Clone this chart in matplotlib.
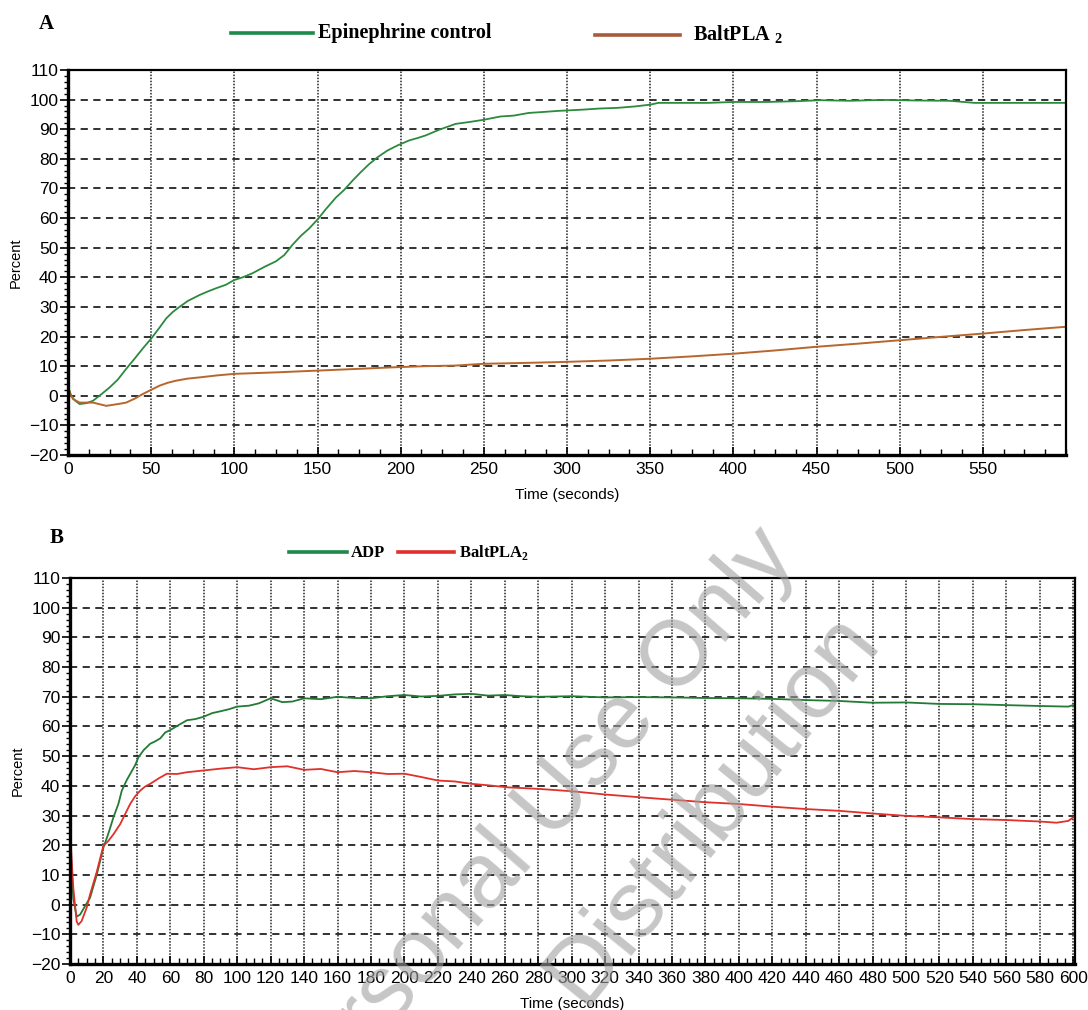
import matplotlib
matplotlib.use("Agg")
import matplotlib.pyplot as plt
from matplotlib.ticker import MultipleLocator

plt.rcParams['font.family'] = ['Liberation Sans', 'DejaVu Sans']
plt.rcParams['mathtext.fontset'] = 'custom'
plt.rcParams['mathtext.bf'] = 'Liberation Serif:bold'
plt.rcParams['mathtext.rm'] = 'Liberation Serif'

# panel A: epinephrine control vs BaltPLA2
epi_t = [0, 2, 4, 7, 11, 15, 20, 25, 30, 35, 40, 45, 50, 55, 59, 63, 67, 72, 79, 84,
         89, 95, 100, 105, 111, 118, 125, 130, 135, 140, 145, 150, 155, 161, 166, 171, 176, 181, 186, 192,
         198, 205, 210, 215, 223, 233, 242, 250, 260, 268, 277, 285, 295, 309, 320, 330, 341, 350, 355, 370,
         385, 400, 420, 440, 452, 470, 490, 510, 530, 545, 560, 580, 600]
epi_v = [3, 0, -1.5, -2.8, -2.5, -1.7, 0.5, 2.8, 5.5, 9.1, 12.5, 16, 19.3, 23, 26.1, 28.3, 30, 32, 34, 35.2,
         36.3, 37.5, 39.1, 40, 41.4, 43.5, 45.4, 47.5, 51, 54, 56.5, 59.5, 63, 66.9, 69.5, 72.6, 75.5, 78.2, 80.5, 82.8,
         84.5, 86.2, 87, 87.9, 89.8, 91.8, 92.5, 93.2, 94.3, 94.6, 95.5, 95.8, 96.2, 96.6, 97, 97.2, 97.7, 98.3, 98.9, 98.9,
         98.9, 99.2, 99.2, 99.5, 99.8, 99.6, 99.9, 99.7, 99.6, 98.9, 98.9, 98.9, 98.9]

balt_a_t = [0, 1, 3, 7, 15, 23, 30, 35, 40, 45, 50, 55, 60, 65, 72, 79, 90, 100, 125, 150,
            175, 195, 215, 233, 250, 275, 297, 325, 350, 375, 400, 425, 449, 475, 501, 525, 550, 575, 600]
balt_a_v = [3, 1, -1.1, -2.3, -2.3, -3.4, -2.8, -2.3, -1, 0.6, 2, 3.4, 4.4, 5.1, 5.8, 6.2, 6.9, 7.4, 7.9, 8.5,
            9.1, 9.6, 10, 10.2, 10.8, 11.1, 11.4, 11.9, 12.5, 13.3, 14.2, 15.3, 16.5, 17.6, 18.8, 19.9, 21, 22.2, 23.3]

# panel B: ADP vs BaltPLA2
adp_t = [0, 1, 2, 4, 6, 9, 12, 16, 20, 23, 26, 29, 31, 34, 36, 39, 41, 44, 48, 51,
         54, 57, 60, 65, 70, 75, 80, 85, 89, 95, 100, 107, 113, 120, 127, 133, 140, 150, 160, 170,
         180, 190, 200, 210, 220, 230, 240, 250, 260, 270, 280, 300, 320, 340, 360, 380, 400, 420, 440, 460,
         480, 500, 520, 540, 560, 580, 597, 600]
adp_v = [27, 12, 2, -4, -3.4, -0.5, 2.3, 10, 19.2, 24, 29.4, 34, 38.4, 42, 44, 47, 49.7, 52, 54.2, 55,
         56, 58, 58.8, 60.5, 62.1, 62.5, 63.3, 64.5, 65, 65.8, 66.7, 67, 67.8, 69.5, 68.2, 68.4, 69.5, 69.2, 70, 69.6,
         69.5, 70.2, 70.6, 70.1, 70.3, 70.8, 71, 70.4, 70.6, 70.2, 70, 70.2, 69.8, 69.9, 69.8, 69.6, 69.5, 69.3, 68.9, 68.6,
         68, 68.1, 67.6, 67.5, 67.2, 66.9, 66.7, 67.2]

balt_b_t = [0, 1, 2, 4, 5, 7, 10, 12, 16, 20, 23, 26, 30, 33, 36, 39, 42, 45, 48, 53,
            58, 64, 70, 80, 90, 100, 110, 120, 130, 140, 150, 160, 170, 180, 190, 200, 210, 220, 230, 240,
            250, 262, 280, 300, 320, 340, 361, 380, 400, 420, 440, 460, 480, 500, 520, 540, 560, 580, 590, 597, 600]
balt_b_v = [27, 15, 5.6, -5.6, -6.8, -5.5, -1, 3.4, 11, 19.8, 21.5, 23.7, 27.1, 30.5, 33.9, 36.5, 38.4, 39.8, 40.7, 42.5,
            44.1, 44, 44.6, 45.2, 45.8, 46.3, 45.6, 46.3, 46.6, 45.4, 45.7, 44.6, 45, 44.6, 44, 44.1, 43, 41.8, 41.5, 40.7,
            40.2, 39.5, 39, 38.2, 37.1, 36.2, 35.3, 34.5, 33.9, 33, 32.2, 31.6, 30.7, 29.9, 29.4, 28.8, 28.5, 28, 27.6, 28.2, 29.4]

fig = plt.figure(figsize=(10.88, 10.10), dpi=100)
ax1 = fig.add_axes([0.0625, 0.5495, 0.9173, 0.3812])
ax2 = fig.add_axes([0.0643, 0.0455, 0.9237, 0.3822])


def style_axes(ax, xmax, xmajor, xminor, xlabels_upto):
    ax.set_xlim(0, xmax)
    ax.set_ylim(-20, 110)
    ax.yaxis.set_major_locator(MultipleLocator(10))
    ax.yaxis.set_minor_locator(MultipleLocator(2))
    ax.xaxis.set_major_locator(MultipleLocator(xmajor))
    ax.xaxis.set_minor_locator(MultipleLocator(xminor))
    ax.set_xticks(range(0, xlabels_upto + 1, xmajor))
    ax.grid(axis='y', which='major', color='#222222', linestyle=(0, (4, 3)), linewidth=1.3)
    ax.grid(axis='x', which='major', color='#222222', linestyle=(0, (1, 1)), linewidth=1.1)
    ax.tick_params(axis='y', which='major', direction='out', length=6, width=1.2, labelsize=12.5, pad=1)
    ax.tick_params(axis='y', which='minor', direction='out', length=3, width=1)
    ax.tick_params(axis='x', which='major', direction='in', length=6, width=1.2, labelsize=12.5, pad=5)
    ax.tick_params(axis='x', which='minor', direction='in', length=4, width=1)
    for side in ['left', 'bottom']:
        ax.spines[side].set_linewidth(2.4)
    for side in ['top', 'right']:
        ax.spines[side].set_linewidth(1.6)
    ax.set_ylabel("Percent", fontsize=10.5, labelpad=4)
    ax.set_xlabel("Time (seconds)", fontsize=11, labelpad=8)


style_axes(ax1, 600, 50, 12.5, 550)
style_axes(ax2, 601, 20, 5, 600)

ax1.plot(epi_t, epi_v, color='#2b8a3e', linewidth=1.3)
ax1.plot(balt_a_t, balt_a_v, color='#b8662c', linewidth=1.4)
ax2.plot(adp_t, adp_v, color='#237a35', linewidth=1.3)
ax2.plot(balt_b_t, balt_b_v, color='#e0302a', linewidth=1.3)

serif = ['Liberation Serif', 'DejaVu Serif']

# panel letters and legends
fig.text(46 / 1088, 1 - 24 / 1010, "A", family=serif, weight='bold', fontsize=15, ha='center', va='center')
fig.text(57 / 1088, 1 - 538 / 1010, "B", family=serif, weight='bold', fontsize=15, ha='center', va='center')

fig.lines.append(plt.Line2D([231 / 1088, 313 / 1088], [1 - 33 / 1010] * 2, color='#1e8a4a', linewidth=2.6, transform=fig.transFigure))
fig.text(318 / 1088, 1 - 33 / 1010, "Epinephrine control", family=serif, weight='bold', fontsize=14.5, va='center')
fig.lines.append(plt.Line2D([595 / 1088, 680 / 1088], [1 - 35 / 1010] * 2, color='#a85a3a', linewidth=2.6, transform=fig.transFigure))
fig.text(693 / 1088, 1 - 35 / 1010, r"BaltPLA $_\mathbf{2}$", family=serif, weight='bold', fontsize=14.5, va='center')

fig.lines.append(plt.Line2D([289 / 1088, 347 / 1088], [1 - 552 / 1010] * 2, color='#1e8a4a', linewidth=2.6, transform=fig.transFigure))
fig.text(351 / 1088, 1 - 553 / 1010, "ADP", family=serif, weight='bold', fontsize=12, va='center')
fig.lines.append(plt.Line2D([398 / 1088, 454 / 1088], [1 - 552 / 1010] * 2, color='#e0302e', linewidth=2.6, transform=fig.transFigure))
fig.text(459 / 1088, 1 - 553 / 1010, r"BaltPLA$_\mathbf{2}$", family=serif, weight='bold', fontsize=12, va='center')

# watermark (runs off the bottom edge, as in the source)
fig.text(0.487, 0.178, "Personal Use Only", fontsize=66, rotation=49, color='#a0a0a0', alpha=0.6,
         ha='center', va='center', zorder=10)
fig.text(0.655, 0.2, "Distribution", fontsize=68, rotation=51, color='#a0a0a0', alpha=0.6,
         ha='center', va='center', zorder=10)

fig.savefig("out.png", dpi=100)
